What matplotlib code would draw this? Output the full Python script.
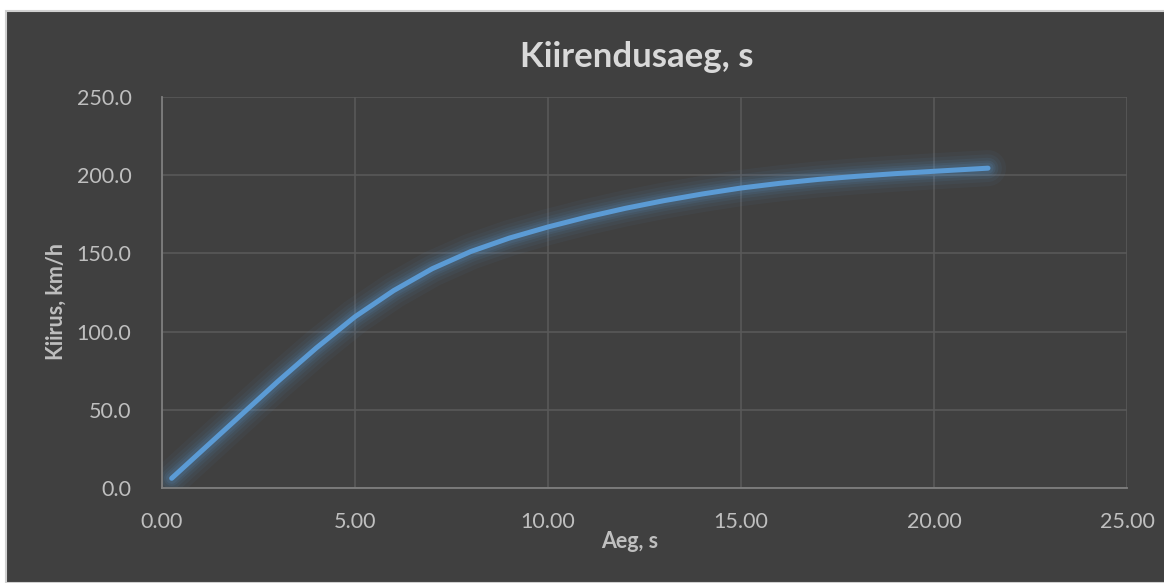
import matplotlib
matplotlib.use("Agg")
import matplotlib.pyplot as plt
from matplotlib.patches import Rectangle

plt.rcParams['font.family'] = ['Lato', 'DejaVu Sans']

# aeg (s) ja kiirus (km/h)
aeg = [0.25, 1.0, 2.0, 3.0, 4.0, 5.0, 6.0, 7.0, 8.0, 9.0, 10.0, 11.0,
       12.0, 13.0, 14.0, 15.0, 16.0, 17.0, 18.0, 19.0, 20.0, 21.4]
kiirus = [6.2, 23.1, 45.6, 68.1, 89.6, 109.5, 126.2, 140.2, 151.2, 159.8,
          166.9, 173.2, 178.8, 183.7, 188.0, 191.8, 194.8, 197.3, 199.3,
          201.0, 202.5, 204.5]
x_ticks = [0, 5, 10, 15, 20, 25]
y_ticks = [0, 50, 100, 150, 200, 250]

W, H = 1164, 583
bg = '#404040'
fig = plt.figure(figsize=(W / 100, H / 100), dpi=100)
fig.patch.set_facecolor('white')
fig.patches.append(Rectangle((6 / W, 0), 1, 1 - 11 / H, transform=fig.transFigure,
                             facecolor=bg, edgecolor='#d0d0d0', linewidth=1.5,
                             zorder=-10))

ax = fig.add_axes([162 / W, 1 - 488 / H, 965 / W, 391 / H])
ax.set_facecolor(bg)

# pehme kuma joone ümber
for lw, a in [(26, 0.05), (20, 0.06), (15, 0.08), (11, 0.10), (8, 0.12)]:
    ax.plot(aeg, kiirus, color='#5b9bd5', lw=lw, alpha=a,
            solid_capstyle='round', solid_joinstyle='round')
ax.plot(aeg, kiirus, color='#5b9bd5', lw=3.6, solid_capstyle='round',
        solid_joinstyle='round')

ax.set_xlim(0, 25)
ax.set_ylim(0, 250)
ax.set_xticks(x_ticks)
ax.set_yticks(y_ticks)
ax.set_xticklabels([f'{t:.2f}' for t in x_ticks])
ax.set_yticklabels([f'{t:.1f}' for t in y_ticks])
ax.tick_params(length=0, colors='#bfbfbf', labelsize=15.5)
ax.tick_params(axis='x', pad=17)
ax.tick_params(axis='y', pad=22)
ax.grid(color='#595959', lw=1.2)
ax.set_axisbelow(True)
for s in ['top', 'right']:
    ax.spines[s].set_visible(False)
for s in ['left', 'bottom']:
    ax.spines[s].set_color('#7f7f7f')
    ax.spines[s].set_linewidth(1.3)

fig.text(637 / W, 1 - 57 / H, 'Kiirendusaeg, s', ha='center', va='center',
         color='#d9d9d9', fontsize=25, fontweight='bold')
fig.text(630 / W, 1 - 541 / H, 'Aeg, s', ha='center', va='center',
         color='#bfbfbf', fontsize=15.5, fontweight='bold')
fig.text(56 / W, 1 - 301 / H, 'Kiirus, km/h', ha='center', va='center',
         rotation=90, color='#bfbfbf', fontsize=15.5, fontweight='bold')

fig.savefig('out.png', dpi=100, facecolor=fig.get_facecolor())
